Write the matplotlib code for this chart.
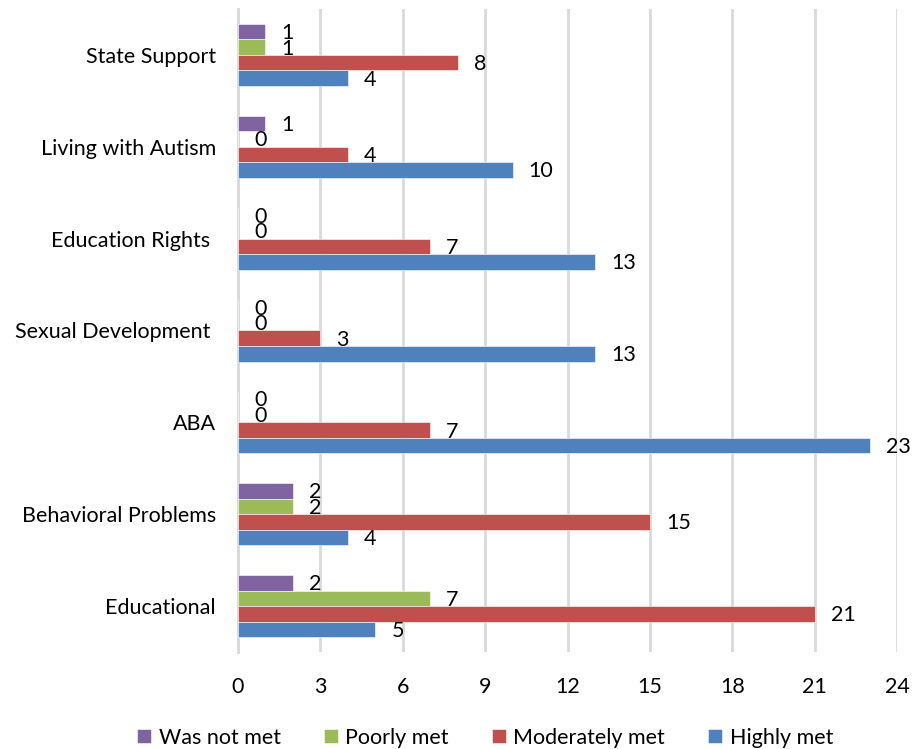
import numpy as np
import matplotlib
matplotlib.use("Agg")
import matplotlib.pyplot as plt
from matplotlib.transforms import offset_copy

plt.rcParams['font.family'] = ['Lato', 'DejaVu Sans']

# data (categories listed top to bottom as in the chart)
categories = ["State Support", "Living with Autism", "Education Rights ",
              "Sexual Development ", "ABA", "Behavioral Problems", "Educational"]
was_not_met = [1, 1, 0, 0, 0, 2, 2]
poorly_met = [1, 0, 0, 0, 0, 2, 7]
moderately_met = [8, 4, 7, 3, 7, 15, 21]
highly_met = [4, 10, 13, 13, 23, 4, 5]

series = [("Was not met", was_not_met, "#8064A2"),
          ("Poorly met", poorly_met, "#9BBB59"),
          ("Moderately met", moderately_met, "#C0504D"),
          ("Highly met", highly_met, "#4F81BD")]

fig = plt.figure(figsize=(9.13, 7.49), dpi=100)
ax = fig.add_axes([0.2607, 0.1295, 0.7218, 0.8585])

y = np.arange(len(categories))
h = 0.169
offsets = [-1.5 * h, -0.5 * h, 0.5 * h, 1.5 * h]

for (name, vals, color), off in zip(series, offsets):
    ax.barh(y + off, vals, height=h, color=color, edgecolor="white",
            linewidth=0.4, label=name, zorder=3)
    lab_tr = offset_copy(ax.transData, fig=fig, x=11.5, y=-1, units="points")
    for yi, v in zip(y + off, vals):
        ax.text(v, yi, str(v), transform=lab_tr, ha="left", va="center",
                fontsize=15.5, color="black", zorder=4)

ax.set_xlim(0, 24)
ax.set_xticks(np.arange(0, 25, 3))
ax.set_ylim(len(categories) - 0.5, -0.5)
ax.set_yticks(y)
ax.set_yticklabels(categories)
ax.tick_params(axis="both", length=0, labelsize=15.5)
ax.tick_params(axis="x", pad=18)
ax.tick_params(axis="y", pad=16)

ax.grid(axis="x", color="#D9D9D9", linewidth=2, zorder=0)
ax.grid(axis="y", visible=False)
for s in ["top", "right", "bottom"]:
    ax.spines[s].set_visible(False)
ax.spines["left"].set_color("#D9D9D9")
ax.spines["left"].set_linewidth(2)

ax.legend(loc="center", bbox_to_anchor=(0.375, -0.133), ncol=4, frameon=False,
          fontsize=15.5, handlelength=0.65, handleheight=0.65, columnspacing=2.0,
          handletextpad=0.35)

fig.savefig("out.png", dpi=100)
